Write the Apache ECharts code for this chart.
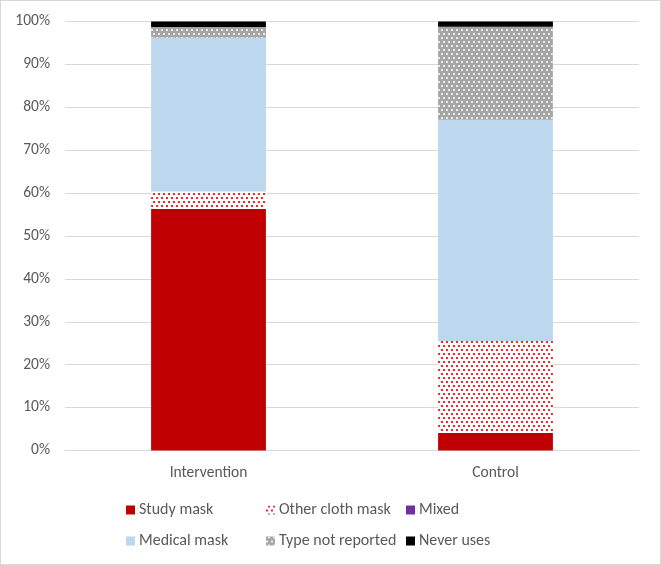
<!DOCTYPE html>
<html>
<head>
<meta charset="utf-8">
<script src="https://cdn.jsdelivr.net/npm/echarts@6/dist/echarts.min.js"></script>
<style>
  html, body { margin: 0; padding: 0; background: #fff; }
  #chart { width: 661px; height: 565px; box-sizing: border-box; border: 1px solid #d9d9d9; }
</style>
</head>
<body>
<div id="chart"></div>
<script>
// groups on the x axis
const categories = ['Intervention', 'Control']
// percentage of each mask type
const studyMask = [56.3, 4.1]
const otherClothMask = [4.1, 21.4]
const mixed = [0, 0]
const medicalMask = [35.8, 51.6]
const typeNotReported = [2.5, 21.7]
const neverUses = [1.3, 1.2]

const chart = echarts.init(document.getElementById('chart'))
const font = 'Calibri, Carlito, Lato, sans-serif'

// small staggered dot pattern used by the hatched segments
const dots = (color) => ({
  symbol: 'rect',
  color: color,
  symbolSize: 1,
  symbolKeepAspect: false,
  dashArrayX: [[1.5, 2.5], [0, 2, 1.5, 0.5]],
  dashArrayY: [1.5, 1.5],
  rotation: 0
})

const seriesDefs = [
  { name: 'Study mask', data: studyMask, itemStyle: { color: '#c00000' } },
  { name: 'Other cloth mask', data: otherClothMask, itemStyle: { color: '#ffffff', decal: dots('rgba(240,0,0,0.85)') } },
  { name: 'Mixed', data: mixed, itemStyle: { color: '#7030a0' } },
  { name: 'Medical mask', data: medicalMask, itemStyle: { color: '#bdd7ee' } },
  { name: 'Type not reported', data: typeNotReported, itemStyle: { color: '#a5a5a5', decal: dots('rgba(255,255,255,0.8)') } },
  { name: 'Never uses', data: neverUses, itemStyle: { color: '#000000' } }
]

// legend laid out as 3 columns x 2 rows
const legendPos = [
  [120, 496], [260, 496], [400, 496],
  [120, 527], [260, 527], [400, 527]
]
const legends = seriesDefs.map((s, i) => ({
  data: [s.name],
  left: legendPos[i][0],
  top: legendPos[i][1],
  itemWidth: 9,
  itemHeight: 9,
  itemGap: 0,
  icon: 'rect',
  textStyle: { color: '#595959', fontSize: 16, fontFamily: font, padding: [0, 0, 0, -1] }
}))

const option = {
  animation: false,
  grid: { left: 64, right: 21, top: 20.5, bottom: 113.5, containLabel: false },
  legend: legends,
  xAxis: {
    type: 'category',
    data: categories,
    axisTick: { show: false },
    axisLine: { lineStyle: { color: '#d9d9d9', width: 1 } },
    axisLabel: { color: '#595959', fontSize: 15.5, fontFamily: font, margin: 15 }
  },
  yAxis: {
    type: 'value',
    min: 0,
    max: 100,
    interval: 10,
    axisLine: { show: false },
    axisTick: { show: false },
    splitLine: { lineStyle: { color: '#d9d9d9', width: 1 } },
    axisLabel: { formatter: '{value}%', color: '#595959', fontSize: 15.5, fontFamily: font, margin: 15 }
  },
  series: seriesDefs.map(s => ({
    name: s.name,
    type: 'bar',
    stack: 'total',
    barWidth: '40%',
    data: s.data,
    itemStyle: s.itemStyle
  }))
}

chart.setOption(option)
</script>
</body>
</html>
